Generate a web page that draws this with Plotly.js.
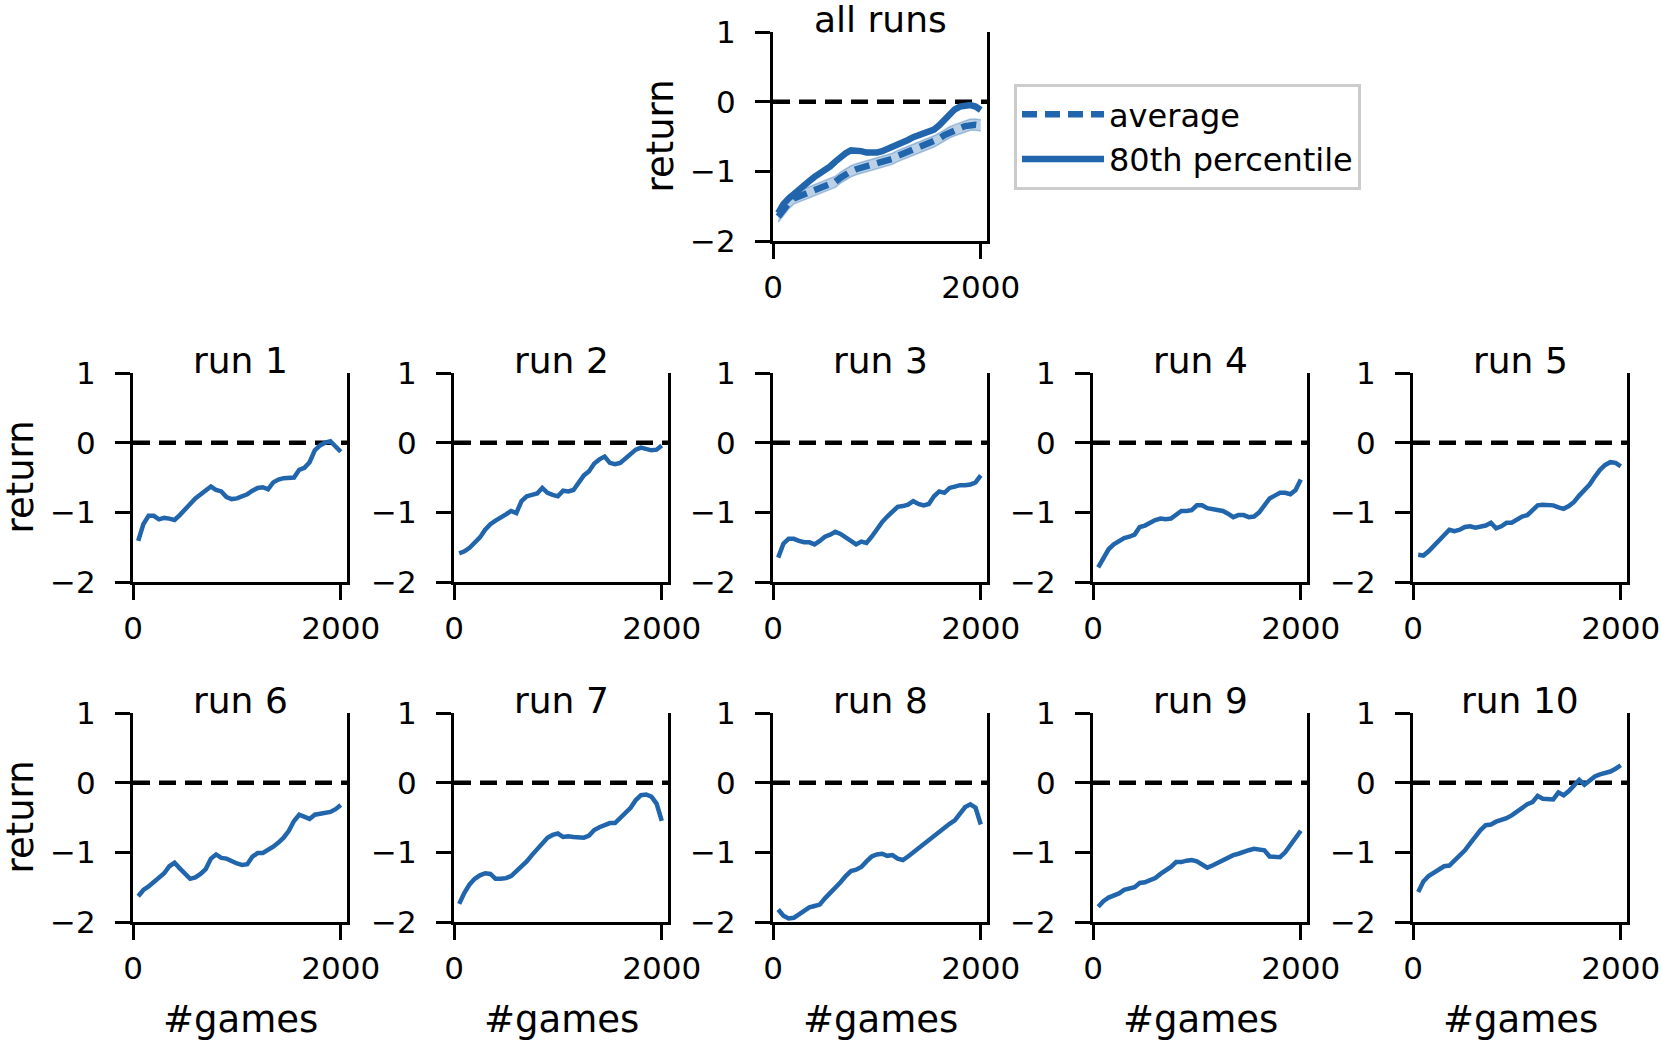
<!DOCTYPE html>
<html>
<head>
<meta charset="utf-8">
<script src="https://cdn.plot.ly/plotly-3.0.1.min.js"></script>
<style>
  html, body { margin: 0; padding: 0; background: #ffffff; }
  #chart { width: 1661px; height: 1040px; }
</style>
</head>
<body>
<div id="chart"></div>
<script>
// ---- data ----
const games = [50,100,150,200,250,300,350,400,450,500,550,600,650,700,750,800,850,900,950,1000,
               1050,1100,1150,1200,1250,1300,1350,1400,1450,1500,1550,1600,1650,1700,1750,1800,1850,1900,1950,2000];

const avgReturn = [-1.65,-1.55,-1.46,-1.39,-1.36,-1.34,-1.31,-1.28,-1.25,-1.22,-1.19,-1.15,-1.09,-1.04,-1.00,-0.97,-0.95,-0.93,-0.91,-0.89,
                   -0.87,-0.85,-0.82,-0.78,-0.75,-0.73,-0.70,-0.67,-0.64,-0.61,-0.57,-0.53,-0.48,-0.44,-0.41,-0.38,-0.35,-0.33,-0.33,-0.34];
const avgHigh = [-1.57,-1.47,-1.38,-1.31,-1.28,-1.26,-1.23,-1.20,-1.17,-1.14,-1.11,-1.07,-1.01,-0.96,-0.92,-0.89,-0.87,-0.85,-0.83,-0.81,
                 -0.79,-0.77,-0.74,-0.70,-0.67,-0.65,-0.62,-0.59,-0.56,-0.53,-0.49,-0.45,-0.40,-0.36,-0.33,-0.30,-0.27,-0.25,-0.25,-0.26];
const avgLow = [-1.73,-1.63,-1.54,-1.47,-1.44,-1.42,-1.39,-1.36,-1.33,-1.30,-1.27,-1.23,-1.17,-1.12,-1.08,-1.05,-1.03,-1.01,-0.99,-0.97,
                -0.95,-0.93,-0.90,-0.86,-0.83,-0.81,-0.78,-0.75,-0.72,-0.69,-0.65,-0.61,-0.56,-0.52,-0.49,-0.46,-0.43,-0.41,-0.41,-0.42];
const pct80 = [-1.60,-1.47,-1.39,-1.32,-1.25,-1.19,-1.14,-1.08,-1.03,-0.99,-0.93,-0.86,-0.79,-0.74,-0.70,-0.70,-0.71,-0.73,-0.74,-0.73,
               -0.71,-0.68,-0.66,-0.63,-0.58,-0.55,-0.51,-0.48,-0.45,-0.43,-0.40,-0.34,-0.26,-0.18,-0.11,-0.07,-0.05,-0.05,-0.07,-0.12];

const run1 = [-1.41,-1.17,-1.05,-1.05,-1.10,-1.08,-1.09,-1.11,-1.04,-0.97,-0.88,-0.80,-0.74,-0.68,-0.63,-0.68,-0.70,-0.78,-0.81,-0.80,
              -0.77,-0.74,-0.69,-0.65,-0.64,-0.67,-0.57,-0.53,-0.51,-0.51,-0.50,-0.39,-0.36,-0.28,-0.11,-0.04,0.00,0.02,-0.05,-0.13];
const run2 = [-1.59,-1.56,-1.51,-1.44,-1.36,-1.25,-1.17,-1.12,-1.08,-1.03,-0.98,-1.01,-0.84,-0.77,-0.75,-0.73,-0.65,-0.72,-0.75,-0.77,
              -0.69,-0.70,-0.68,-0.58,-0.47,-0.41,-0.30,-0.24,-0.20,-0.29,-0.31,-0.29,-0.22,-0.16,-0.10,-0.07,-0.09,-0.11,-0.10,-0.04];
const run3 = [-1.65,-1.45,-1.38,-1.38,-1.41,-1.43,-1.43,-1.46,-1.41,-1.35,-1.32,-1.28,-1.31,-1.36,-1.41,-1.46,-1.42,-1.44,-1.35,-1.23,
              -1.14,-1.06,-0.99,-0.92,-0.91,-0.89,-0.84,-0.88,-0.90,-0.88,-0.77,-0.70,-0.72,-0.65,-0.63,-0.61,-0.61,-0.60,-0.57,-0.47];
const run4 = [-1.79,-1.65,-1.53,-1.46,-1.41,-1.37,-1.35,-1.32,-1.21,-1.19,-1.15,-1.11,-1.09,-1.10,-1.09,-1.03,-0.98,-0.98,-0.97,-0.90,
              -0.90,-0.94,-0.95,-0.96,-0.98,-1.02,-1.07,-1.04,-1.04,-1.07,-1.06,-1.00,-0.89,-0.80,-0.76,-0.72,-0.72,-0.74,-0.68,-0.53];
const run5 = [-1.61,-1.62,-1.56,-1.48,-1.39,-1.31,-1.25,-1.27,-1.25,-1.21,-1.20,-1.22,-1.21,-1.19,-1.15,-1.23,-1.20,-1.15,-1.15,-1.11,
              -1.06,-1.04,-0.97,-0.90,-0.89,-0.90,-0.90,-0.93,-0.95,-0.91,-0.85,-0.76,-0.68,-0.60,-0.49,-0.39,-0.32,-0.28,-0.29,-0.34];
const run6 = [-1.63,-1.54,-1.49,-1.42,-1.36,-1.30,-1.20,-1.15,-1.23,-1.31,-1.38,-1.36,-1.31,-1.24,-1.09,-1.03,-1.08,-1.09,-1.13,-1.16,
              -1.18,-1.17,-1.06,-1.01,-1.01,-0.97,-0.92,-0.86,-0.79,-0.69,-0.55,-0.46,-0.49,-0.52,-0.46,-0.45,-0.44,-0.42,-0.38,-0.32];
const run7 = [-1.74,-1.58,-1.46,-1.38,-1.33,-1.30,-1.31,-1.38,-1.38,-1.37,-1.34,-1.27,-1.22,-1.13,-1.04,-0.95,-0.87,-0.79,-0.75,-0.73,
              -0.78,-0.77,-0.78,-0.79,-0.79,-0.76,-0.68,-0.64,-0.61,-0.58,-0.58,-0.51,-0.44,-0.36,-0.25,-0.18,-0.17,-0.20,-0.30,-0.55];
const run8 = [-1.82,-1.91,-1.95,-1.94,-1.89,-1.83,-1.79,-1.77,-1.75,-1.66,-1.59,-1.51,-1.43,-1.34,-1.27,-1.25,-1.21,-1.13,-1.06,-1.03,
              -1.02,-1.05,-1.04,-1.09,-1.11,-1.06,-1.00,-0.94,-0.88,-0.82,-0.75,-0.70,-0.64,-0.59,-0.54,-0.44,-0.35,-0.31,-0.36,-0.60];
const run9 = [-1.78,-1.70,-1.65,-1.62,-1.59,-1.54,-1.52,-1.50,-1.44,-1.43,-1.40,-1.37,-1.31,-1.26,-1.21,-1.14,-1.14,-1.12,-1.11,-1.13,
              -1.18,-1.22,-1.19,-1.15,-1.12,-1.08,-1.04,-1.02,-0.99,-0.97,-0.95,-0.96,-0.97,-1.06,-1.06,-1.07,-1.00,-0.90,-0.79,-0.69];
const run10 = [-1.57,-1.42,-1.34,-1.29,-1.25,-1.20,-1.19,-1.12,-1.03,-0.97,-0.87,-0.77,-0.68,-0.61,-0.60,-0.56,-0.54,-0.51,-0.47,-0.41,
               -0.36,-0.31,-0.28,-0.19,-0.23,-0.24,-0.24,-0.14,-0.18,-0.12,-0.03,0.04,-0.03,0.04,0.09,0.12,0.14,0.16,0.20,0.25];

const runTitles = ['run 1','run 2','run 3','run 4','run 5','run 6','run 7','run 8','run 9','run 10'];
const runs = [run1, run2, run3, run4, run5, run6, run7, run8, run9, run10];
const yTickVals = [-2, -1, 0, 1];
const yTickText = ['\u22122', '\u22121', '0', '1'];
const xTickVals = [0, 2000];
const xTickText = ['0', '2000'];

// ---- layout geometry ----
const W = 1661, H = 1040;
const colLeft = [133, 454, 773, 1093, 1413];
const rowTop = [373, 713];
const topPanel = {left: 773, top: 32};
const PW = 214, PH = 209;
const BLUE = '#2166ac';
const FONT = 'DejaVu Sans, Liberation Sans, sans-serif';

const panels = [{left: topPanel.left, top: topPanel.top, title: 'all runs', ylab: true, xlab: false}];
runTitles.forEach((t, i) => {
  const r = Math.floor(i / 5), c = i % 5;
  panels.push({left: colLeft[c], top: rowTop[r], title: t, ylab: c === 0, xlab: r === 1});
});

const layout = {
  width: W, height: H,
  margin: {l: 0, r: 0, t: 0, b: 0},
  paper_bgcolor: '#ffffff', plot_bgcolor: '#ffffff',
  font: {family: FONT, color: '#000000', size: 31},
  showlegend: true,
  legend: {
    x: 1014 / W, y: 1 - 84 / H, xanchor: 'left', yanchor: 'top',
    traceorder: 'normal',
    bordercolor: '#cccccc', borderwidth: 3, bgcolor: '#ffffff',
    font: {family: FONT, size: 32, color: '#000000'},
    itemwidth: 82, tracegroupgap: 0
  },
  annotations: [], shapes: []
};

panels.forEach((p, i) => {
  const n = i + 1;
  const xk = n === 1 ? 'xaxis' : 'xaxis' + n;
  const yk = n === 1 ? 'yaxis' : 'yaxis' + n;
  const xid = n === 1 ? 'x' : 'x' + n;
  const yid = n === 1 ? 'y' : 'y' + n;
  layout[xk] = {
    domain: [p.left / W, (p.left + PW) / W],
    anchor: yid, range: [0, 2060],
    showgrid: false, zeroline: false,
    showline: true, linecolor: '#000000', linewidth: 3, mirror: false,
    ticks: 'outside', ticklen: 15, tickwidth: 3, tickcolor: '#000000',
    tickvals: xTickVals, ticktext: xTickText,
    tickfont: {family: FONT, size: 31, color: '#000000'},
    ticklabelstandoff: 2, ticklabeloverflow: 'allow', fixedrange: true
  };
  layout[yk] = {
    domain: [1 - (p.top + PH) / H, 1 - p.top / H],
    anchor: xid, range: [-2, 1],
    showgrid: false, zeroline: false,
    showline: true, linecolor: '#000000', linewidth: 3, mirror: true,
    ticks: 'outside', ticklen: 15, tickwidth: 3, tickcolor: '#000000',
    tickvals: yTickVals, ticktext: yTickText,
    tickfont: {family: FONT, size: 31, color: '#000000'},
    ticklabelstandoff: 13, fixedrange: true
  };
  // zero reference line
  layout.shapes.push({
    type: 'line', xref: xid + ' domain', yref: yid,
    x0: 0, x1: 1, y0: 0, y1: 0,
    line: {color: '#000000', width: 4.5, dash: '17px,9px'}, layer: 'below'
  });
  // panel title
  layout.annotations.push({
    text: p.title, xref: 'paper', yref: 'paper',
    x: (p.left + PW / 2) / W, y: 1 - p.top / H,
    xanchor: 'center', yanchor: 'bottom', yshift: -10, showarrow: false,
    font: {family: FONT, size: 36, color: '#000000'}
  });
  if (p.ylab) {
    layout.annotations.push({
      text: 'return', xref: 'paper', yref: 'paper',
      x: (p.left - 113) / W, y: 1 - (p.top + PH / 2) / H,
      xanchor: 'center', yanchor: 'middle', textangle: -90, showarrow: false,
      font: {family: FONT, size: 37, color: '#000000'}
    });
  }
  if (p.xlab) {
    layout.annotations.push({
      text: '#games', xref: 'paper', yref: 'paper',
      x: (p.left + PW / 2) / W, y: 1 - 1019 / H,
      xanchor: 'center', yanchor: 'middle', showarrow: false,
      font: {family: FONT, size: 37, color: '#000000'}
    });
  }
});

// ---- traces ----
const traces = [];
// top panel: band, average, 80th percentile
traces.push({x: games, y: avgHigh, xaxis: 'x', yaxis: 'y', type: 'scatter', mode: 'lines',
  line: {color: 'rgba(33,102,172,0.35)', width: 1.5}, showlegend: false, hoverinfo: 'skip'});
traces.push({x: games, y: avgLow, xaxis: 'x', yaxis: 'y', type: 'scatter', mode: 'lines',
  fill: 'tonexty', fillcolor: 'rgba(33,102,172,0.3)',
  line: {color: 'rgba(33,102,172,0.35)', width: 1.5}, showlegend: false, hoverinfo: 'skip'});
traces.push({x: games, y: avgReturn, xaxis: 'x', yaxis: 'y', type: 'scatter', mode: 'lines',
  name: 'average', line: {color: BLUE, width: 6.5, dash: '15px,8px'}});
traces.push({x: games, y: pct80, xaxis: 'x', yaxis: 'y', type: 'scatter', mode: 'lines',
  name: '80th percentile', line: {color: BLUE, width: 6.5}});

runs.forEach((r, i) => {
  const n = i + 2;
  traces.push({x: games, y: r, xaxis: 'x' + n, yaxis: 'y' + n, type: 'scatter', mode: 'lines',
    name: runTitles[i], showlegend: false, line: {color: BLUE, width: 4.5}});
});

Plotly.newPlot('chart', traces, layout, {staticPlot: true, displayModeBar: false});
</script>
</body>
</html>
